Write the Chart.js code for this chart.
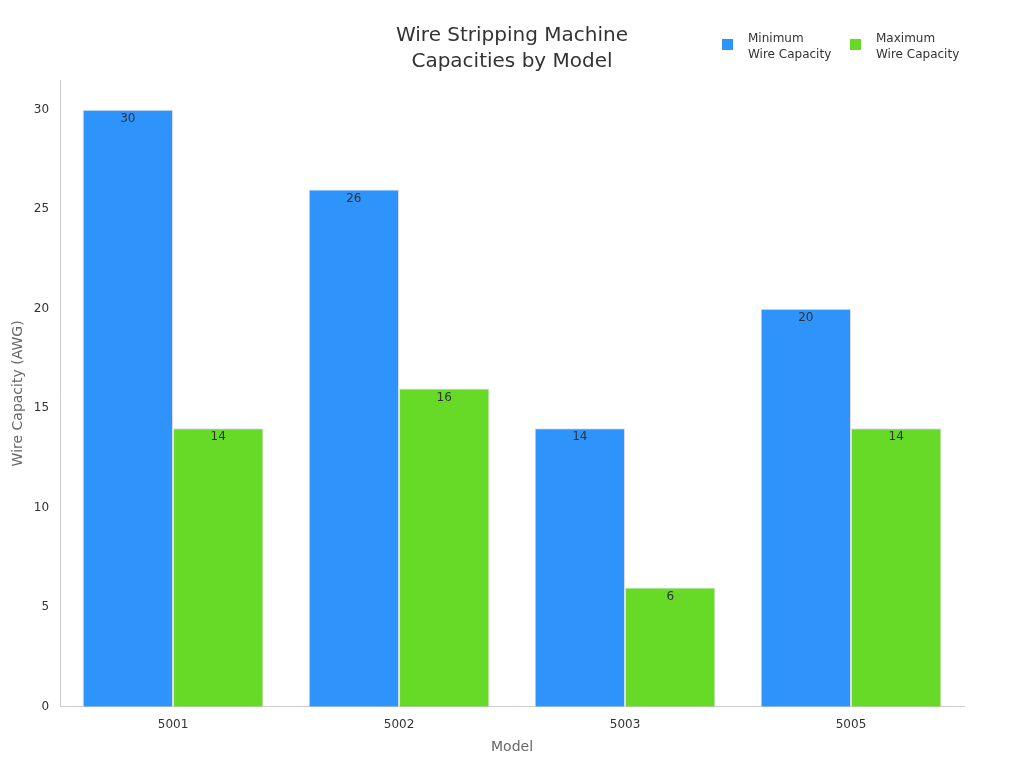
<!DOCTYPE html>
<html><head><meta charset="utf-8">
<script src="https://cdn.jsdelivr.net/npm/chart.js@4"></script>
<style>body{margin:0;background:#fff;font-family:"DejaVu Sans",sans-serif}#w{position:relative;width:1024px;height:768px}
#t{position:absolute;left:312px;width:400px;top:21px;text-align:center;font-size:20px;color:#333;line-height:26px}
.lg{position:absolute;top:30px;font-size:12px;color:#333;line-height:16px}.lg i{position:absolute;left:-26px;top:9px;width:11px;height:11px}</style>
</head><body><div id="w"><canvas id="c" width="1024" height="768"></canvas><div id="t">Wire Stripping Machine<br>Capacities by Model</div>
<div id="lgs"></div></div>
<script>
const categories=["5001","5002","5003","5005"];
const minCap=[30,26,14,20];
const maxCap=[14,16,6,14];
const yTicks=[0,5,10,15,20,25,30];
const seriesNames=[['Minimum','Wire Capacity'],['Maximum','Wire Capacity']];
const colors=['#2E93FA','#66DA26'];
const lgX=[748,876];
document.getElementById('lgs').innerHTML=seriesNames.map((n,i)=>`<div class="lg" style="left:${lgX[i]}px"><i style="background:${colors[i]}"></i>${n.join('<br>')}</div>`).join('');
Chart.defaults.font.family='"DejaVu Sans",sans-serif';
const valLabels={id:'vl',afterDatasetsDraw(ch){const c=ch.ctx;c.save();c.font='12px "DejaVu Sans"';c.fillStyle='#333';c.textAlign='center';c.textBaseline='top';
ch.data.datasets.forEach((d,i)=>ch.getDatasetMeta(i).data.forEach((b,j)=>c.fillText(d.data[j],b.x,b.y+3)));c.restore();}};
new Chart(document.getElementById('c'),{type:'bar',
data:{labels:categories,datasets:[
{label:seriesNames[0].join(' '),data:minCap,backgroundColor:colors[0],borderColor:'#dde',borderWidth:1,categoryPercentage:0.8,barPercentage:1},
{label:seriesNames[1].join(' '),data:maxCap,backgroundColor:colors[1],borderColor:'#dde',borderWidth:1,categoryPercentage:0.8,barPercentage:1}]},
options:{responsive:false,animation:false,layout:{padding:{left:6,right:60,top:80,bottom:8}},
plugins:{legend:{display:false},tooltip:{enabled:false}},
scales:{x:{grid:{display:false},border:{color:'#ccc'},ticks:{color:'#333',font:{size:12}},title:{display:true,text:'Model',color:'#666',font:{size:14}}},
y:{min:0,max:31.5,afterBuildTicks(s){s.ticks=yTicks.map(v=>({value:v}));},grid:{display:false,drawTicks:true},border:{color:'#ccc'},ticks:{color:'#333',font:{size:12}},title:{display:true,text:'Wire Capacity (AWG)',color:'#666',font:{size:14}}}}},
plugins:[valLabels]});
</script></body></html>
